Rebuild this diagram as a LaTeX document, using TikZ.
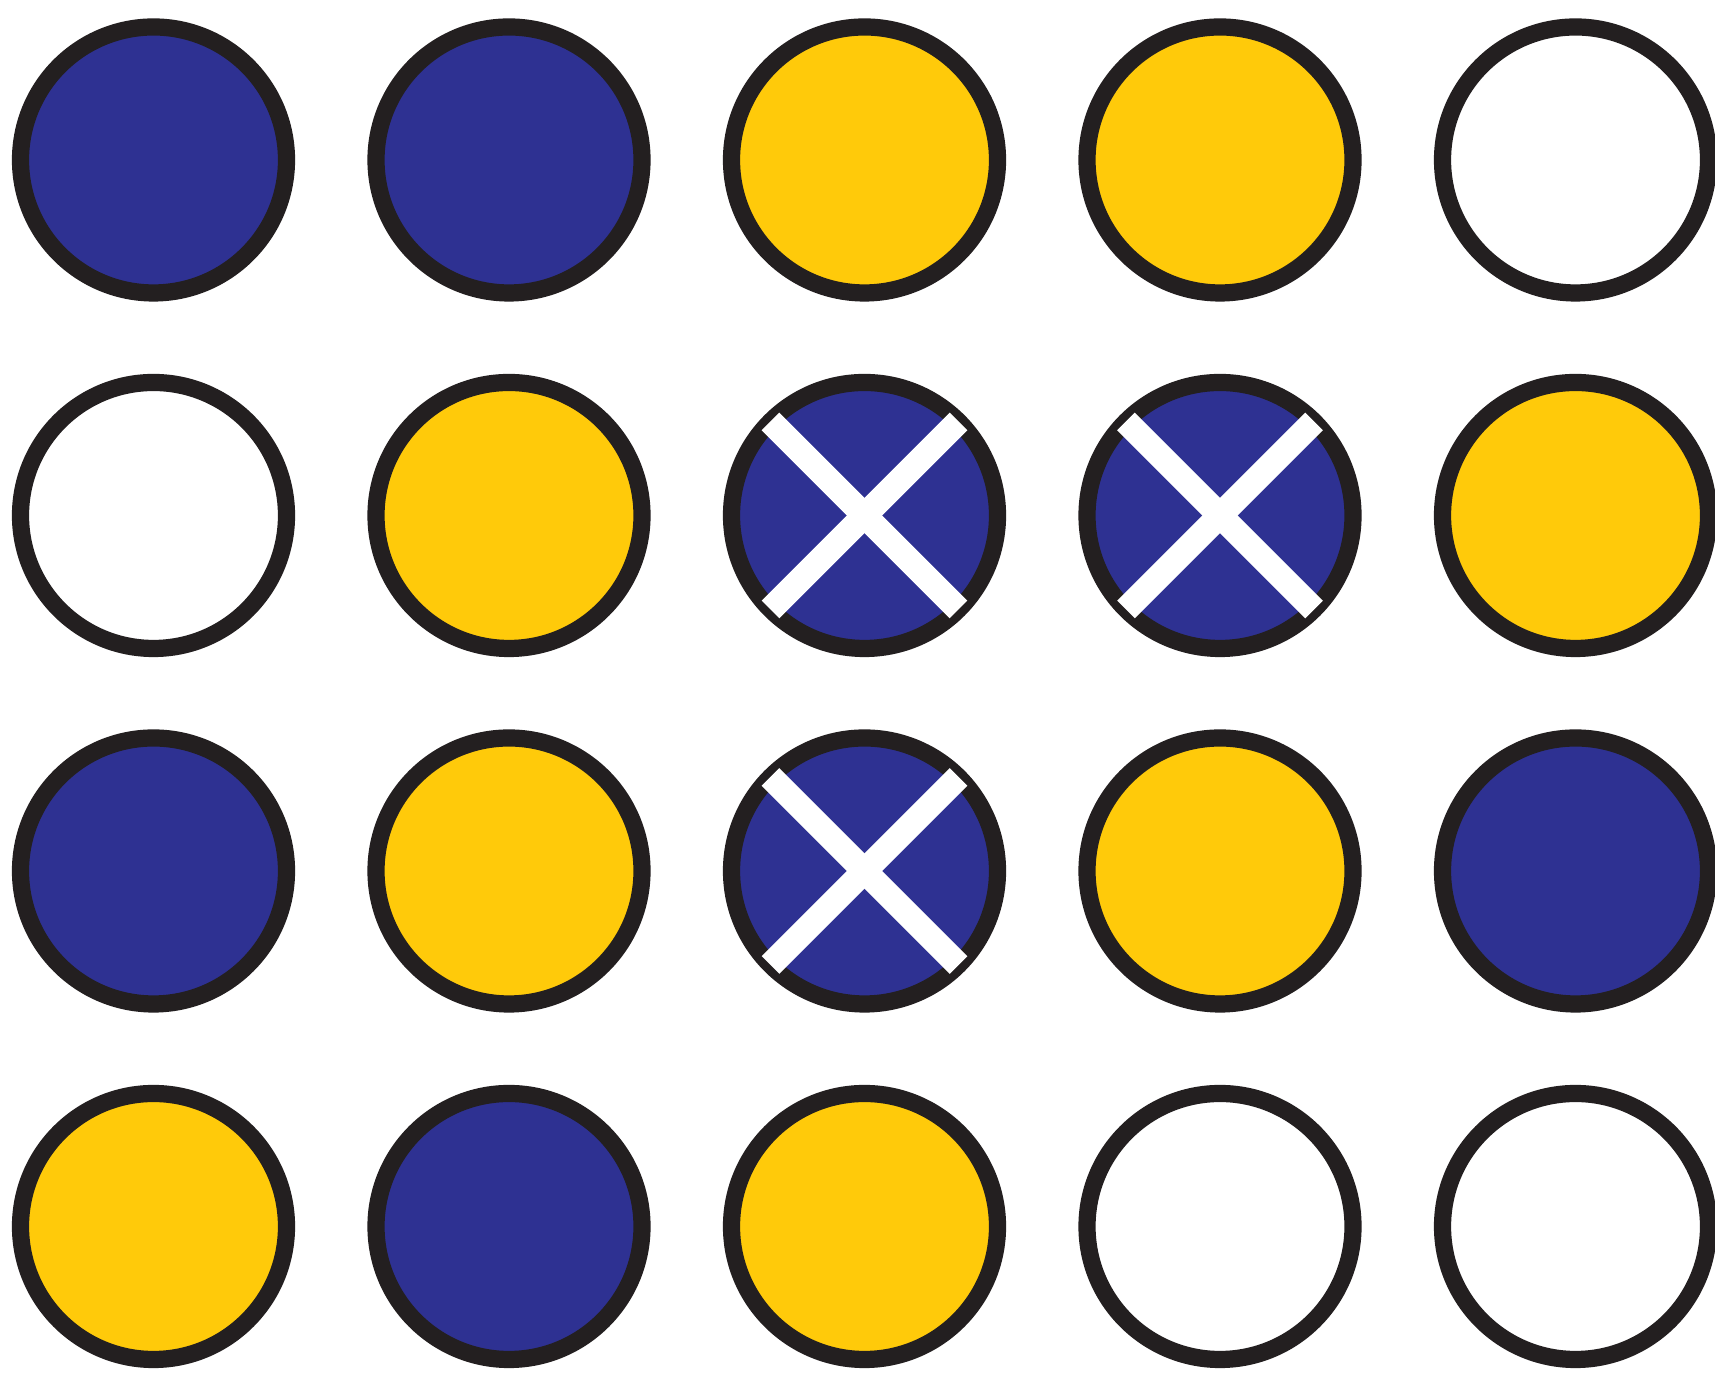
\documentclass[tikz,border=0pt]{standalone}
\usepackage{xcolor}
\usepackage{tikz}
\definecolor{dotblue}{HTML}{2E3192}
\definecolor{dotyellow}{HTML}{FFCA0A}
\definecolor{rimblack}{HTML}{231F20}

\begin{document}
\begin{tikzpicture}[
    rim/.style={draw=rimblack, line width=4.9pt},
    blue dot/.style={rim, fill=dotblue},
    yellow dot/.style={rim, fill=dotyellow},
    white dot/.style={rim, fill=white},
    crossbar/.style={draw=white, line width=7.1pt, line cap=butt}
]

    % khung hình (cắt bớt cột phải)
    \clip (0,0) rectangle (17.15,13.75);

    % =================================================================
    % HÀNG 1
    % =================================================================
    \begin{scope}[yshift=12.15cm]
        \draw[blue dot]   (1.535,0)  circle (1.33);
        \draw[blue dot]   (5.09,0)   circle (1.33);
        \draw[yellow dot] (8.645,0)  circle (1.33);
        \draw[yellow dot] (12.2,0)   circle (1.33);
        \draw[white dot]  (15.755,0) circle (1.33);
    \end{scope}

    % =================================================================
    % HÀNG 2
    % =================================================================
    \begin{scope}[yshift=8.595cm]
        \draw[white dot]  (1.535,0)  circle (1.33);
        \draw[yellow dot] (5.09,0)   circle (1.33);
        \draw[blue dot]   (8.645,0)  circle (1.33);
        \draw[blue dot]   (12.2,0)   circle (1.33);
        \draw[yellow dot] (15.755,0) circle (1.33);

        % dấu chéo trắng
        \draw[crossbar] (8.645,0) ++(-0.94,0.94) -- ++(1.88,-1.88);
        \draw[crossbar] (8.645,0) ++(-0.94,-0.94) -- ++(1.88,1.88);
        \draw[crossbar] (12.2,0) ++(-0.94,0.94) -- ++(1.88,-1.88);
        \draw[crossbar] (12.2,0) ++(-0.94,-0.94) -- ++(1.88,1.88);
    \end{scope}

    % =================================================================
    % HÀNG 3
    % =================================================================
    \begin{scope}[yshift=5.04cm]
        \draw[blue dot]   (1.535,0)  circle (1.33);
        \draw[yellow dot] (5.09,0)   circle (1.33);
        \draw[blue dot]   (8.645,0)  circle (1.33);
        \draw[yellow dot] (12.2,0)   circle (1.33);
        \draw[blue dot]   (15.755,0) circle (1.33);

        % dấu chéo trắng
        \draw[crossbar] (8.645,0) ++(-0.94,0.94) -- ++(1.88,-1.88);
        \draw[crossbar] (8.645,0) ++(-0.94,-0.94) -- ++(1.88,1.88);
    \end{scope}

    % =================================================================
    % HÀNG 4
    % =================================================================
    \begin{scope}[yshift=1.485cm]
        \draw[yellow dot] (1.535,0)  circle (1.33);
        \draw[blue dot]   (5.09,0)   circle (1.33);
        \draw[yellow dot] (8.645,0)  circle (1.33);
        \draw[white dot]  (12.2,0)   circle (1.33);
        \draw[white dot]  (15.755,0) circle (1.33);
    \end{scope}

\end{tikzpicture}
\end{document}
